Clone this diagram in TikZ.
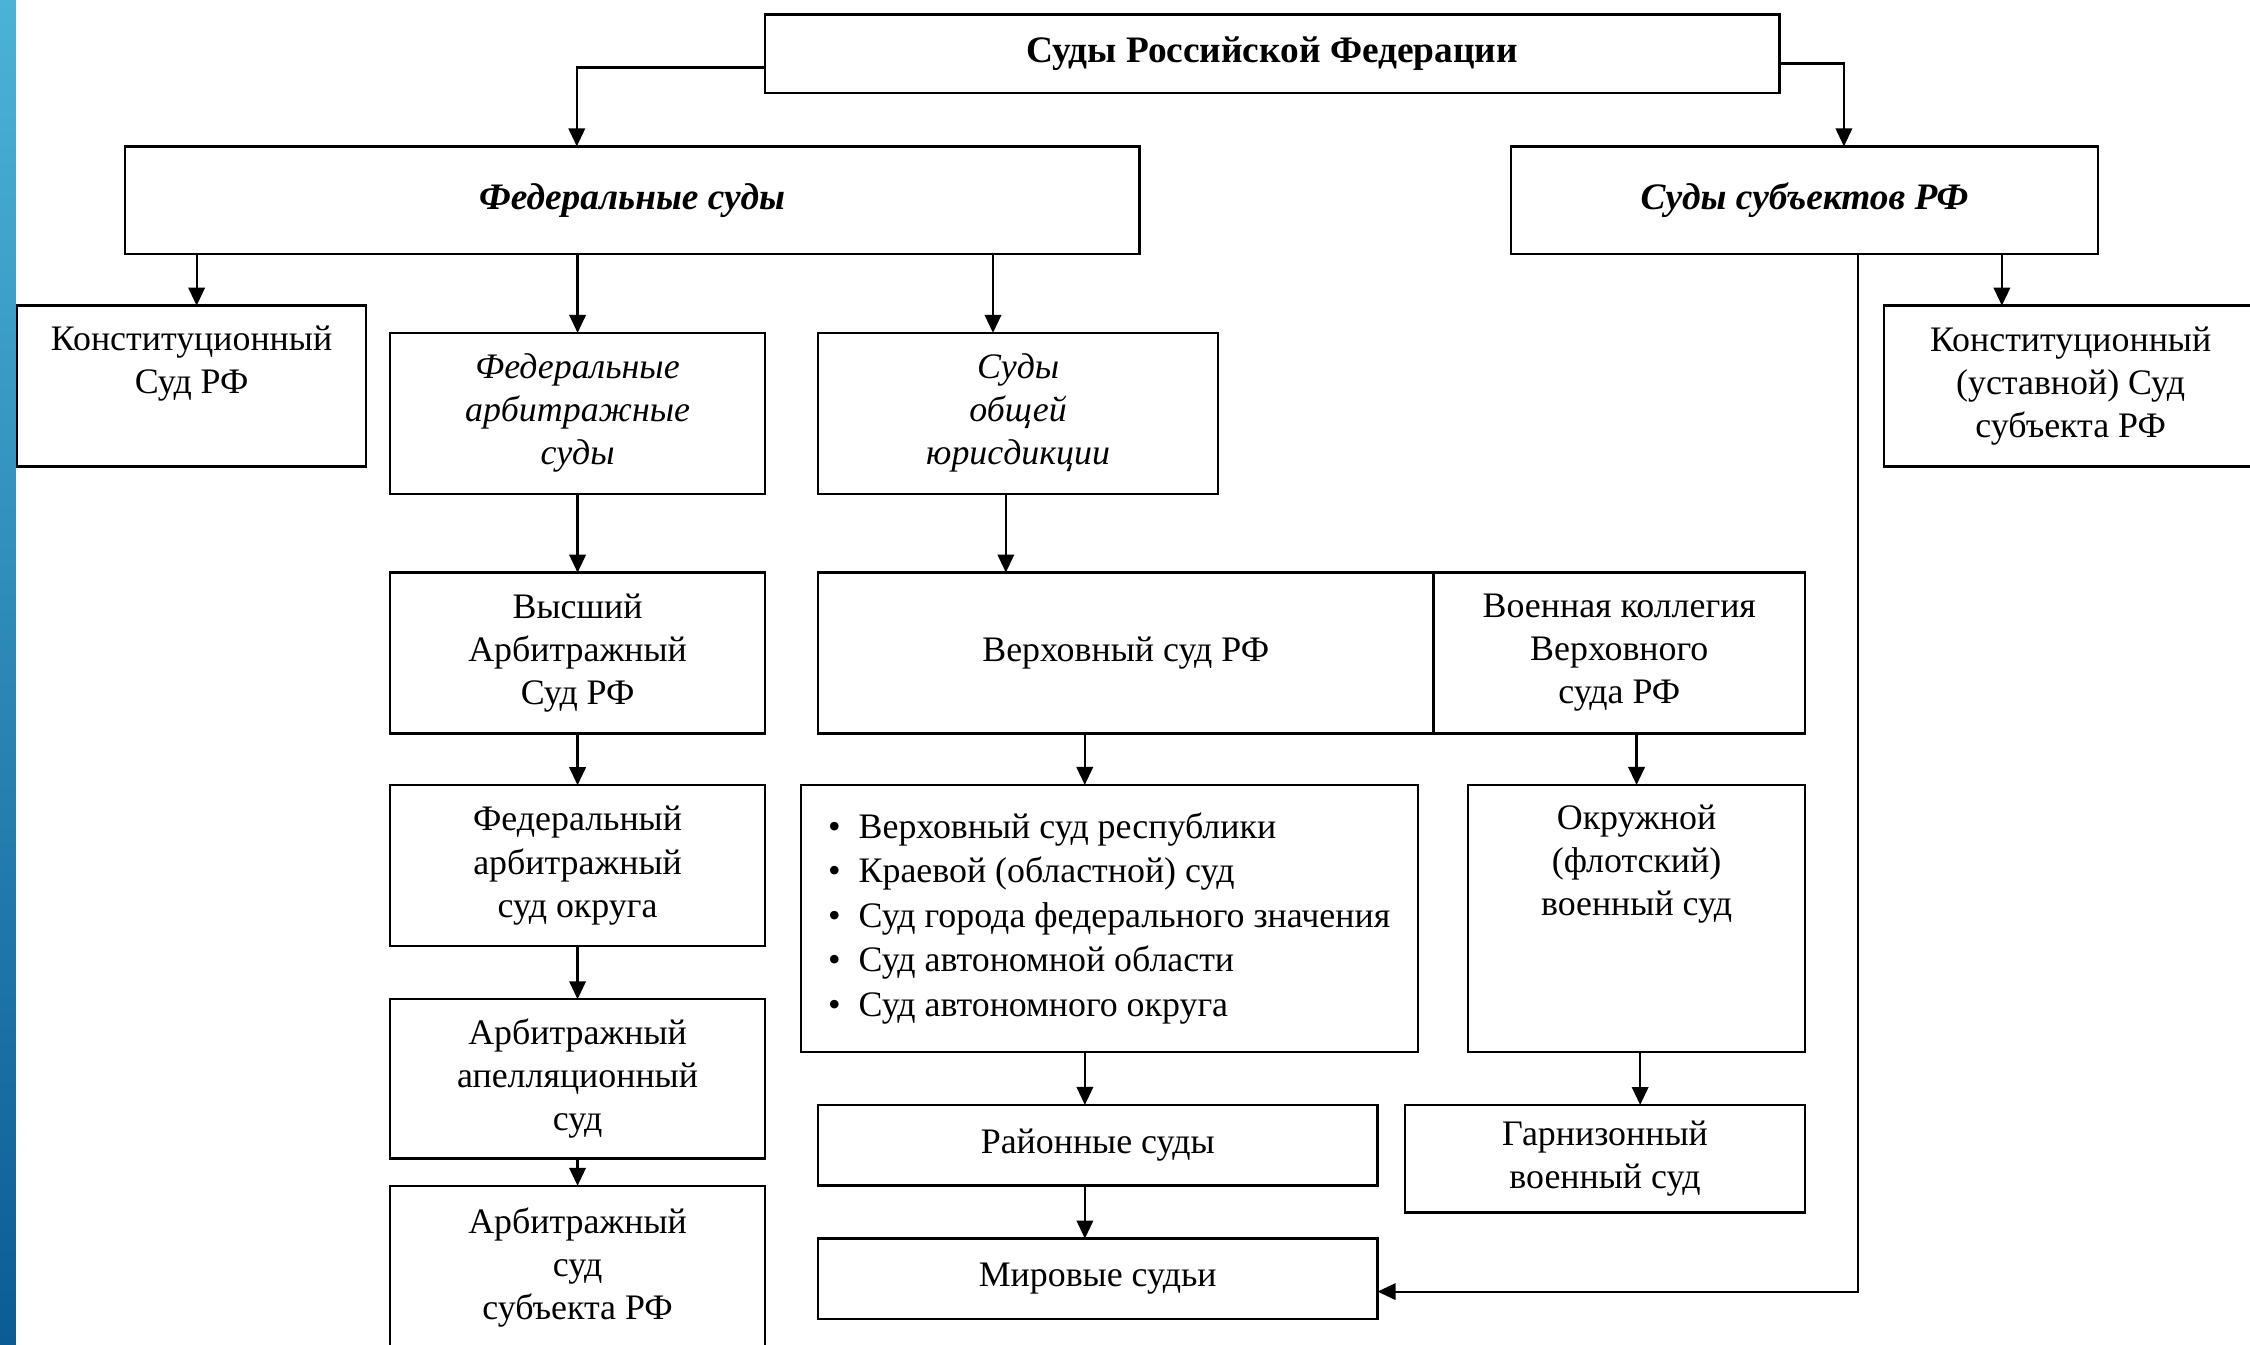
\documentclass[tikz,border=0pt]{standalone}
\usepackage{fontspec}
\setmainfont{Liberation Serif}
\usepackage{tikz}
\usetikzlibrary{positioning, arrows.meta}
\definecolor{stripTop}{RGB}{75,179,214}
\definecolor{stripBot}{RGB}{11,92,149}

\begin{document}
\begin{tikzpicture}[x=0.48pt, y=-0.48pt,
        box/.style={draw, line width=0.8pt, inner sep=2pt, outer sep=0pt, align=center,
                    font=\fontsize{12}{14.4}\selectfont},
        arrow/.style={-{Triangle[length=6pt,width=5.5pt]}, line width=0.75pt}]
        \useasboundingbox (0,0) rectangle (1568,937);
        % Polosa sleva
        \shade[top color=stripTop, bottom color=stripBot] (0,0) rectangle (11,937);

        % Verhnij uroven
        \node[box, minimum width=339.4pt, minimum height=26.4pt,
              font=\fontsize{12.5}{15}\selectfont\bfseries] (rf) at (886.5,37.5) {Суды Российской Федерации};
        \node[box, minimum width=339.4pt, minimum height=36pt,
              font=\fontsize{12.5}{15}\selectfont\bfseries\itshape] (fed) at (440.5,139.5) {Федеральные суды};
        \node[box, minimum width=196.3pt, minimum height=36pt,
              font=\fontsize{12.5}{15}\selectfont\bfseries\itshape] (subj) at (1257.5,139.5) {Суды субъектов РФ};

        % Konstitucionnyj Sud
        \node[box, minimum width=116.6pt, minimum height=53.8pt] (ksRF) at (133.5,269) {};
        \node[anchor=north, yshift=-3.3pt, align=center, font=\fontsize{12}{14.4}\selectfont] (ksTxt) at (ksRF.north)
            {Конституционный\\Суд РФ};
        \node[box, minimum width=124.8pt, minimum height=53.8pt] (ksSubj) at (1443,269)
            {Конституционный\\(уставной) Суд\\субъекта РФ};

        % Arbitrazhnye sudy
        \node[box, minimum width=125.3pt, minimum height=53.8pt,
              font=\fontsize{12}{14.4}\selectfont\itshape] (arbFed) at (402.5,288) {Федеральные\\арбитражные\\суды};
        \node[box, minimum width=125.3pt, minimum height=53.8pt, below=26.4pt of arbFed] (vasRF)
            {Высший\\Арбитражный\\Суд РФ};
        \node[box, minimum width=125.3pt, minimum height=53.8pt, below=17.3pt of vasRF] (fasOkr)
            {Федеральный\\арбитражный\\суд округа};
        \node[box, minimum width=125.3pt, minimum height=53.3pt, below=17.8pt of fasOkr] (aasSud)
            {Арбитражный\\апелляционный\\суд};
        \node[box, minimum width=125.3pt, minimum height=54.7pt, below=9.1pt of aasSud] (asSubj)
            {Арбитражный\\суд\\субъекта РФ};

        % Sudy obshhej jurisdikcii
        \node[box, minimum width=133.9pt, minimum height=53.8pt,
              font=\fontsize{12}{14.4}\selectfont\itshape] (obsh) at (709.5,288) {Суды\\общей\\юрисдикции};
        \node[box, minimum width=205.9pt, minimum height=53.8pt] (vsRF) at (784.5,455) {Верховный суд РФ};
        \node[box, minimum width=124.3pt, minimum height=53.8pt, right=0pt of vsRF] (vkRF)
            {Военная коллегия\\Верховного\\суда РФ};
        \node[box, minimum width=206.4pt, minimum height=89.3pt, align=left,
              font=\fontsize{12}{14.9}\selectfont] (spisok) at (773,640)
            {\textbullet\enspace Верховный суд республики\\
             \textbullet\enspace Краевой (областной) суд\\
             \textbullet\enspace Суд города федерального значения\\
             \textbullet\enspace Суд автономной области\\
             \textbullet\enspace Суд автономного округа};
        \node[box, minimum width=187.2pt, minimum height=26.9pt] (raion) at (765,798) {Районные суды};
        \node[box, minimum width=187.2pt, minimum height=26.9pt, below=17.8pt of raion] (mir) {Мировые судьи};

        % Voennye sudy
        \node[box, minimum width=112.8pt, minimum height=89.3pt] (okrVS) at (1140.5,640) {};
        \node[anchor=north, yshift=-3.3pt, align=center, font=\fontsize{12}{14.4}\selectfont] (okrTxt) at (okrVS.north)
            {Окружной\\(флотский)\\военный суд};
        \node[box, minimum width=133.9pt, minimum height=36pt] (garn) at (1118.5,807.5)
            {Гарнизонный\\военный суд};

        % Svjazi
        \draw[arrow] ([yshift=-4.6pt]rf.west) -| ([xshift=-18.5pt]fed.north);
        \draw[arrow] ([yshift=-3.2pt]rf.east) -| ([xshift=13.2pt]subj.north);
        \draw[arrow] ([xshift=1.7pt]ksRF.north |- fed.south) -- ([xshift=1.7pt]ksRF.north);
        \draw[arrow] (arbFed.north |- fed.south) -- (arbFed.north);
        \draw[arrow] ([xshift=-8.4pt]obsh.north |- fed.south) -- ([xshift=-8.4pt]obsh.north);
        \draw[arrow] ([xshift=-23pt]ksSubj.north |- subj.south) -- ([xshift=-23pt]ksSubj.north);
        \draw[arrow] (arbFed) -- (vasRF);
        \draw[arrow] (vasRF) -- (fasOkr);
        \draw[arrow] (fasOkr) -- (aasSud);
        \draw[arrow] (aasSud) -- (asSubj);
        \draw[arrow] ([xshift=-4.1pt]obsh.south) -- ([xshift=-4.1pt]obsh.south |- vsRF.north);
        \draw[arrow] ([xshift=-13.7pt]vsRF.south) -- ([xshift=-13.7pt]vsRF.south |- spisok.north);
        \draw[arrow] (okrVS.north |- vkRF.south) -- (okrVS.north);
        \draw[arrow] ([xshift=-4.3pt]raion.north |- spisok.south) -- ([xshift=-4.3pt]raion.north);
        \draw[arrow] ([xshift=1.2pt]okrVS.south) -- ([xshift=1.2pt]okrVS.south |- garn.north);
        \draw[arrow] ([xshift=-4.3pt]raion.south) -- ([xshift=-4.3pt]mir.north);
        \draw[arrow, line width=0.6pt] ([xshift=18pt]subj.south) |- ([yshift=-4.3pt]mir.east);
    \end{tikzpicture}
\end{document}
